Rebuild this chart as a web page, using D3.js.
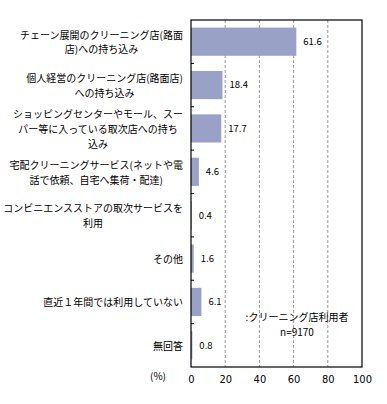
<!DOCTYPE html>
<html>
<head>
<meta charset="utf-8">
<script src="https://cdn.jsdelivr.net/npm/d3@7"></script>
<style>
  body { margin: 0; background: #fff; }
  svg { display: block; font-family: "Noto Sans CJK JP", sans-serif; }
</style>
</head>
<body>
<svg width="387" height="404"></svg>
<script>
// ---- Dados
const categories = [
    ['チェーン展開のクリーニング店(路面', '店)への持ち込み'],
    ['個人経営のクリーニング店(路面店)', 'への持ち込み'],
    ['ショッピングセンターやモール、スー', 'パー等に入っている取次店への持ち', '込み'],
    ['宅配クリーニングサービス(ネットや電', '話で依頼、自宅へ集荷・配達)'],
    ['コンビニエンスストアの取次サービスを', '利用'],
    ['その他'],
    ['直近１年間では利用していない'],
    ['無回答']
];
const values = [61.6, 18.4, 17.7, 4.6, 0.4, 1.6, 6.1, 0.8];
const xTicks = [0, 20, 40, 60, 80, 100];
const noteLines = [':クリーニング店利用者', 'n=9170'];
const unitLabel = '(%)';

const margens = { left: 191, right: 25, top: 20, bottom: 37 };
const svg = d3.select('svg');
const W = 387 - margens.left - margens.right;
const H = 404 - margens.top - margens.bottom;

// ---- Escalas
const mapX = d3.scaleLinear().domain([0, 100]).range([0, W]);
const mapY = d3.scaleBand()
    .domain(d3.range(values.length))
    .range([0, H])
    .paddingInner(0.35)
    .paddingOuter(0.175);

const g = svg.append('g').attr('transform', `translate(${margens.left}, ${margens.top})`);

// grade tracejada
g.selectAll('.grid').data(xTicks.slice(1, -1)).join('line')
    .attr('x1', d => mapX(d)).attr('x2', d => mapX(d))
    .attr('y1', 0).attr('y2', H)
    .attr('stroke', '#999').attr('stroke-dasharray', '3,2');

// barras
g.selectAll('rect.bar').data(values).join('rect')
    .attr('class', 'bar')
    .attr('x', 0)
    .attr('y', (d, i) => mapY(i))
    .attr('width', d => mapX(d))
    .attr('height', mapY.bandwidth())
    .attr('fill', '#99a2c6');

// valores
g.selectAll('text.val').data(values).join('text')
    .attr('class', 'val')
    .attr('x', d => mapX(d) + 7)
    .attr('y', (d, i) => mapY(i) + mapY.bandwidth() / 2)
    .attr('dy', '0.35em')
    .style('font-size', '9.5px')
    .text(d => d.toFixed(1));

// moldura
g.append('rect').attr('width', W).attr('height', H)
    .attr('fill', 'none').attr('stroke', '#000').attr('stroke-width', 1.2);

// marcas do eixo y (nas divisões das categorias)
const step = mapY.step();
g.selectAll('.ytick').data(d3.range(1, values.length)).join('line')
    .attr('x1', 0).attr('x2', 3)
    .attr('y1', d => d * step).attr('y2', d => d * step)
    .attr('stroke', '#000');

// ---- Eixo x
const xAxis = d3.axisBottom(mapX).tickValues(xTicks).tickSize(0).tickPadding(8);
g.append('g')
    .attr('transform', `translate(0, ${H})`)
    .call(xAxis)
    .call(s => s.select('.domain').remove())
    .selectAll('text')
    .style('font-family', '"DejaVu Sans Condensed", "Liberation Sans Narrow", sans-serif')
    .style('font-size', '11px')
    .attr('fill', '#000');

svg.append('text')
    .attr('x', 158).attr('y', 380)
    .attr('text-anchor', 'middle')
    .style('font-size', '10px')
    .text(unitLabel);

// ---- Rótulos das categorias
const labelRight = 183;
const lineH = 14.6;
categories.forEach((lines, i) => {
    const cy = margens.top + mapY(i) + mapY.bandwidth() / 2 + 1;
    const t = svg.append('text').style('font-size', '10px');
    const spans = t.selectAll('tspan').data(lines).join('tspan')
        .attr('y', (d, k) => cy + (k - (lines.length - 1) / 2) * lineH)
        .attr('dy', '0.35em')
        .text(d => d);
    let maxW = 0;
    spans.each(function () { maxW = Math.max(maxW, this.getComputedTextLength()); });
    spans.attr('x', labelRight - maxW / 2).attr('text-anchor', 'middle');
});

// ---- Nota
svg.selectAll('text.note').data(noteLines).join('text')
    .attr('class', 'note')
    .attr('x', 297)
    .attr('y', (d, i) => 317 + i * 15)
    .attr('dy', '0.35em')
    .attr('text-anchor', 'middle')
    .style('font-size', '10px')
    .text(d => d);
</script>
</body>
</html>
